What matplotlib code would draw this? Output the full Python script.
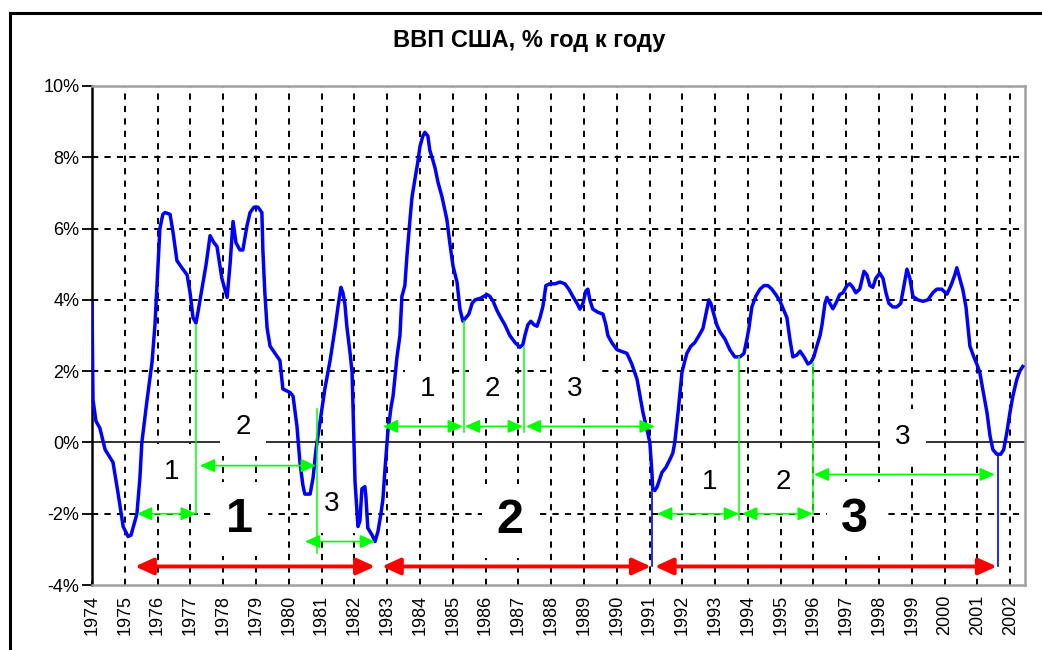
import numpy as np
import matplotlib
matplotlib.use("Agg")
import matplotlib.pyplot as plt
from matplotlib.lines import Line2D

plt.rcParams['font.family'] = ['Liberation Sans', 'DejaVu Sans']

# years since 1974 / growth %
t_off = [0.00, 0.03, 0.12, 0.24, 0.40, 0.64, 0.79, 0.95, 1.10, 1.19, 1.28, 1.37, 1.46, 1.52,
         1.68, 1.83, 1.92, 1.98, 2.04, 2.07, 2.16, 2.23, 2.38, 2.47, 2.59, 2.74, 2.90, 2.99,
         3.08, 3.17, 3.23, 3.35, 3.48, 3.60, 3.72, 3.81, 3.96, 4.12, 4.21, 4.30, 4.39, 4.51,
         4.60, 4.73, 4.82, 4.94, 5.06, 5.18, 5.21, 5.27, 5.34, 5.43, 5.58, 5.73, 5.82, 6.04,
         6.13, 6.25, 6.34, 6.43, 6.49, 6.65, 6.74, 6.83, 6.95, 7.10, 7.26, 7.41, 7.50, 7.59,
         7.65, 7.71, 7.77, 7.87, 7.93, 8.02, 8.11, 8.17, 8.23, 8.32, 8.35, 8.41, 8.54, 8.63,
         8.72, 8.81, 8.87, 8.93, 9.02, 9.12, 9.18, 9.30, 9.39, 9.45, 9.54, 9.60, 9.70, 9.76,
         9.85, 9.94, 10.00, 10.09, 10.15, 10.24, 10.30, 10.40, 10.46, 10.55, 10.67, 10.82,
         10.91, 11.01, 11.13, 11.22, 11.31, 11.40, 11.49, 11.59, 11.68, 11.86, 12.04, 12.13,
         12.23, 12.35, 12.44, 12.59, 12.74, 12.90, 13.05, 13.14, 13.20, 13.29, 13.38, 13.48,
         13.57, 13.66, 13.75, 13.84, 13.96, 14.12, 14.27, 14.42, 14.54, 14.66, 14.79, 14.88,
         14.97, 15.06, 15.12, 15.18, 15.27, 15.43, 15.58, 15.67, 15.73, 15.85, 16.01, 16.16,
         16.31, 16.46, 16.62, 16.71, 16.80, 16.92, 17.01, 17.07, 17.10, 17.16, 17.23, 17.32,
         17.38, 17.50, 17.62, 17.71, 17.77, 17.87, 17.93, 17.99, 18.08, 18.14, 18.26, 18.38,
         18.51, 18.63, 18.72, 18.81, 18.87, 18.96, 19.05, 19.15, 19.30, 19.45, 19.60, 19.76,
         19.88, 19.97, 20.03, 20.12, 20.24, 20.37, 20.49, 20.61, 20.73, 20.85, 20.98, 21.10,
         21.19, 21.28, 21.37, 21.49, 21.59, 21.71, 21.83, 21.92, 22.01, 22.10, 22.20, 22.26,
         22.35, 22.41, 22.50, 22.59, 22.68, 22.80, 22.90, 23.02, 23.11, 23.20, 23.29, 23.41,
         23.54, 23.63, 23.72, 23.81, 23.90, 24.02, 24.12, 24.21, 24.30, 24.42, 24.54, 24.66,
         24.76, 24.85, 24.94, 25.03, 25.18, 25.34, 25.49, 25.64, 25.76, 25.91, 26.07, 26.19,
         26.31, 26.37, 26.46, 26.55, 26.65, 26.71, 26.77, 26.89, 26.98, 27.07, 27.16, 27.29,
         27.38, 27.47, 27.59, 27.71, 27.80, 27.90, 27.99, 28.08, 28.20, 28.29, 28.38]
gdp = [3.9, 1.2, 0.6, 0.4, -0.2, -0.56, -1.4, -2.36, -2.64, -2.6, -2.3, -2.0, -1.0, 0.0,
       1.2, 2.25, 3.3, 4.4, 5.5, 6.0, 6.4, 6.45, 6.4, 5.9, 5.1, 4.9, 4.7, 4.2,
       3.5, 3.35, 3.65, 4.3, 5.0, 5.8, 5.6, 5.5, 4.6, 4.07, 5.0, 6.2, 5.6, 5.4,
       5.4, 6.1, 6.45, 6.6, 6.6, 6.45, 5.4, 4.2, 3.2, 2.7, 2.5, 2.3, 1.5, 1.4,
       1.3, 0.45, -0.56, -1.2, -1.45, -1.45, -1.0, -0.2, 0.56, 1.5, 2.3, 3.2, 3.8, 4.35,
       4.2, 3.9, 3.26, 2.5, 1.97, -1.1, -2.36, -2.2, -1.3, -1.24, -1.5, -2.4, -2.6, -2.78,
       -2.5, -2.0, -1.6, -0.8, 0.28, 1.0, 1.3, 2.4, 3.0, 4.1, 4.4, 5.2, 6.3, 6.9,
       7.4, 7.9, 8.3, 8.6, 8.7, 8.6, 8.2, 7.9, 7.7, 7.3, 6.9, 6.26,
       5.6, 4.94, 4.5, 3.74, 3.4, 3.5, 3.6, 3.9, 4.0, 4.05, 4.15, 4.1,
       3.96, 3.7, 3.54, 3.3, 3.0, 2.8, 2.67, 2.75, 3.0, 3.3, 3.4, 3.3,
       3.26, 3.5, 3.82, 4.4, 4.45, 4.45, 4.5, 4.45, 4.3, 4.1, 3.9, 3.74,
       3.9, 4.25, 4.3, 4.0, 3.74, 3.65, 3.6, 3.3, 3.0, 2.8, 2.6, 2.55,
       2.5, 2.2, 1.77, 1.3, 0.84, 0.37, 0.0, -0.8, -1.3, -1.35, -1.25, -1.0,
       -0.84, -0.7, -0.48, -0.3, 0.0, 0.84, 1.4, 1.97, 2.3, 2.5, 2.7, 2.8,
       3.0, 3.2, 3.6, 4.0, 3.9, 3.6, 3.3, 3.1, 2.9, 2.6, 2.4, 2.4,
       2.5, 2.9, 3.2, 3.8, 4.1, 4.3, 4.4, 4.4, 4.3, 4.15, 3.96, 3.7,
       3.5, 2.9, 2.4, 2.45, 2.56, 2.4, 2.2, 2.25, 2.4, 2.7, 3.0, 3.3,
       3.9, 4.07, 3.9, 3.75, 3.9, 4.15, 4.2, 4.4, 4.45, 4.35, 4.2, 4.3,
       4.8, 4.7, 4.4, 4.35, 4.6, 4.75, 4.6, 4.2, 3.9, 3.8, 3.8, 3.9,
       4.4, 4.86, 4.6, 4.1, 4.0, 3.96, 4.0, 4.2, 4.3, 4.3, 4.16, 4.4,
       4.7, 4.9, 4.6, 4.3, 3.8, 3.26, 2.7, 2.4, 2.2, 1.97, 1.5, 0.84,
       0.2, -0.2, -0.33, -0.33, -0.2, 0.3, 0.84, 1.3, 1.77, 2.0, 2.13]

years = list(range(1974, 2003))
y_ticks = [-4, -2, 0, 2, 4, 6, 8, 10]
y_labels = ['-4%', '-2%', '0%', '2%', '4%', '6%', '8%', '10%']

# big cycles (red arrows)
cycle_level = -3.48
cycles = [(1975.31, 1982.63), (1982.84, 1991.04), (1991.16, 2001.59)]
# phases (green arrows): start, end, level
phases = [(1975.37, 1977.17, -2.0), (1977.29, 1980.83, -0.65), (1980.49, 1982.63, -2.78),
          (1982.87, 1985.31, 0.45), (1985.37, 1987.14, 0.45), (1987.23, 1991.16, 0.45),
          (1991.23, 1993.73, -2.0), (1993.82, 1995.98, -2.0), (1996.01, 2001.53, -0.9)]
# green verticals: x, top, bottom
green_marks = [(1977.17, 3.3, -2.0), (1980.86, 0.93, -3.1), (1985.34, 3.4, 0.28),
               (1987.17, 2.67, 0.28), (1993.73, 2.4, -2.17), (1995.98, 2.24, -2.0)]
blue_marks = [(1991.07, -1.3, cycle_level), (2001.62, -0.33, cycle_level)]
small_labels = [("1", 1976.44, -0.84), ("2", 1978.60, 0.42), ("3", 1981.32, -1.74),
                ("1", 1984.24, 1.49), ("2", 1986.20, 1.49), ("3", 1988.73, 1.49),
                ("1", 1992.84, -1.12), ("2", 1995.07, -1.12), ("3", 1998.73, 0.14)]
big_labels = [("1", 1978.51, -2.16), ("2", 1986.74, -2.2), ("3", 1997.26, -2.16)]

t = 1974 + np.array(t_off)

fig = plt.figure(figsize=(10.42, 6.5), dpi=100)
ax = fig.add_axes([0.0883, 0.1, 0.8954, 0.7677])
ax.set_xlim(1974, 2002.45)
ax.set_ylim(-4, 10)

dash = (0, (3.2, 3.2))
for v in y_ticks[1:-1]:
    if v != 0:
        ax.axhline(v, color='black', lw=1.4, ls=dash, zorder=1)
for yr in years[1:]:
    ax.axvline(yr, color='black', lw=1.4, ls=dash, zorder=1)
ax.axhline(0, color='#222222', lw=1.3, zorder=1.2)

ax.plot(t, gdp, color='#0000ff', lw=2.5, zorder=4, solid_joinstyle='round')

for a, b in cycles:
    ax.annotate('', xy=(b, cycle_level), xytext=(a, cycle_level),
                arrowprops=dict(arrowstyle='<|-|>,head_length=1.1,head_width=0.5',
                                color='#ff0000', lw=2.8, shrinkA=0, shrinkB=0),
                zorder=5)
for a, b, lv in phases:
    ax.annotate('', xy=(b, lv), xytext=(a, lv),
                arrowprops=dict(arrowstyle='<|-|>,head_length=0.9,head_width=0.4',
                                color='#00ff00', lw=1.2, shrinkA=0, shrinkB=0),
                zorder=5)
for x, top, bot in green_marks:
    ax.plot([x, x], [top, bot], color='#00ff00', lw=1.1, zorder=4.5)
for x, top, bot in blue_marks:
    ax.plot([x, x], [top, bot], color='#0000ff', lw=1.2, zorder=4.5)

for s, x, y in small_labels:
    ax.text(x, y, s, fontsize=20, ha='center', va='center', zorder=3,
            bbox=dict(boxstyle='square,pad=0.55', fc='white', ec='none'))
for s, x, y in big_labels:
    ax.text(x, y, s, fontsize=35, fontweight='bold', ha='center', va='center', zorder=3,
            bbox=dict(boxstyle='square,pad=0.3', fc='white', ec='none'))

ax.set_xticks(years)
ax.set_xticklabels([str(y) for y in years], rotation=90, fontsize=13)
ax.set_yticks(y_ticks)
ax.set_yticklabels(y_labels, fontsize=13)
ax.tick_params(axis='y', direction='out', length=7, width=1.3, color='black', pad=2)
ax.tick_params(axis='x', direction='in', length=3, width=1.2, color='black', pad=7)

for side in ['top', 'right', 'bottom']:
    ax.spines[side].set_color('#a0a0a0')
    ax.spines[side].set_linewidth(1.8)
ax.spines['left'].set_color('black')
ax.spines['left'].set_linewidth(1.8)

fig.text(0.508, 0.938, 'ВВП США, % год к году', ha='center', va='center',
         fontsize=17, fontweight='bold')

# chart frame
fig.add_artist(Line2D([0.0096, 1.0], [0.98, 0.98], color='black', lw=2.2))
fig.add_artist(Line2D([0.0096, 0.0096], [0.0, 0.98], color='black', lw=2.2))

fig.savefig('out.png', dpi=100)
